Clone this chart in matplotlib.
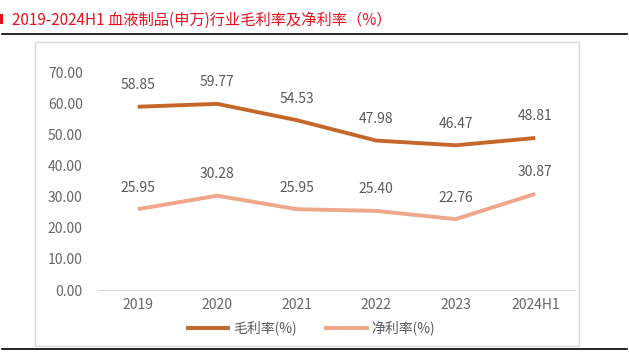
import matplotlib.pyplot as plt
from matplotlib.patches import Rectangle
from matplotlib.lines import Line2D

plt.rcParams['font.family'] = ['Noto Sans CJK SC', 'DejaVu Sans']

years = ["2019", "2020", "2021", "2022", "2023", "2024H1"]
gross_margin = [58.85, 59.77, 54.53, 47.98, 46.47, 48.81]
net_margin = [25.95, 30.28, 25.95, 25.40, 22.76, 30.87]
yticks = [0, 10, 20, 30, 40, 50, 60, 70]

c_gross = "#C5672B"
c_net = "#EEA78B"
c_text = "#595959"

fig = plt.figure(figsize=(6.29, 3.57), dpi=100)
W, H = 629, 357

# title + frame lines
fig.text(12 / W, 1 - 20 / H, "2019-2024H1 血液制品(申万)行业毛利率及净利率（%）",
         color="#E8101E", fontsize=11, va="center", ha="left")
fig.add_artist(Line2D([2 / W, 627 / W], [1 - 34 / H] * 2, color="black", lw=1.2))
fig.add_artist(Line2D([2 / W, 627 / W], [1 - 349 / H] * 2, color="black", lw=1.2))
fig.add_artist(Rectangle((0, 1 - 24 / H), 3 / W, 10 / H, color="#E8101E", lw=0))
fig.add_artist(Rectangle((35 / W, 1 - 346 / H), 544 / W, 304 / H, fill=False,
                         edgecolor="#D9D9D9", lw=1))

ax = fig.add_axes([98 / W, 1 - 290 / H, 477 / W, 218 / H])
x = range(len(years))
ax.plot(x, gross_margin, color=c_gross, lw=2.8, solid_capstyle="butt", label="毛利率(%)")
ax.plot(x, net_margin, color=c_net, lw=2.8, solid_capstyle="butt", label="净利率(%)")

for i in x:
    ax.annotate(f"{gross_margin[i]:.2f}", (i, gross_margin[i]), xytext=(0, 10.5),
                textcoords="offset points", ha="center", va="bottom",
                fontsize=10, color=c_text)
    ax.annotate(f"{net_margin[i]:.2f}", (i, net_margin[i]), xytext=(0, 10.5),
                textcoords="offset points", ha="center", va="bottom",
                fontsize=10, color=c_text)

ax.set_xlim(-0.5, len(years) - 0.5)
ax.set_ylim(0, 70)
ax.set_yticks(yticks)
ax.set_yticklabels([f"{v:.2f}" for v in yticks])
ax.set_xticks(list(x))
ax.set_xticklabels(years)
ax.tick_params(axis="both", length=0, labelsize=10, labelcolor="#666666")
ax.tick_params(axis="y", pad=11)
ax.tick_params(axis="x", pad=6)
for s in ["top", "right", "left"]:
    ax.spines[s].set_visible(False)
ax.spines["bottom"].set_color("#D9D9D9")

ax.legend(loc="center", bbox_to_anchor=(0.445, -0.175), ncol=2, frameon=False,
          fontsize=10, handlelength=3.2, handletextpad=0.2, columnspacing=2,
          labelcolor=c_text)

fig.savefig("out.png", dpi=100)
